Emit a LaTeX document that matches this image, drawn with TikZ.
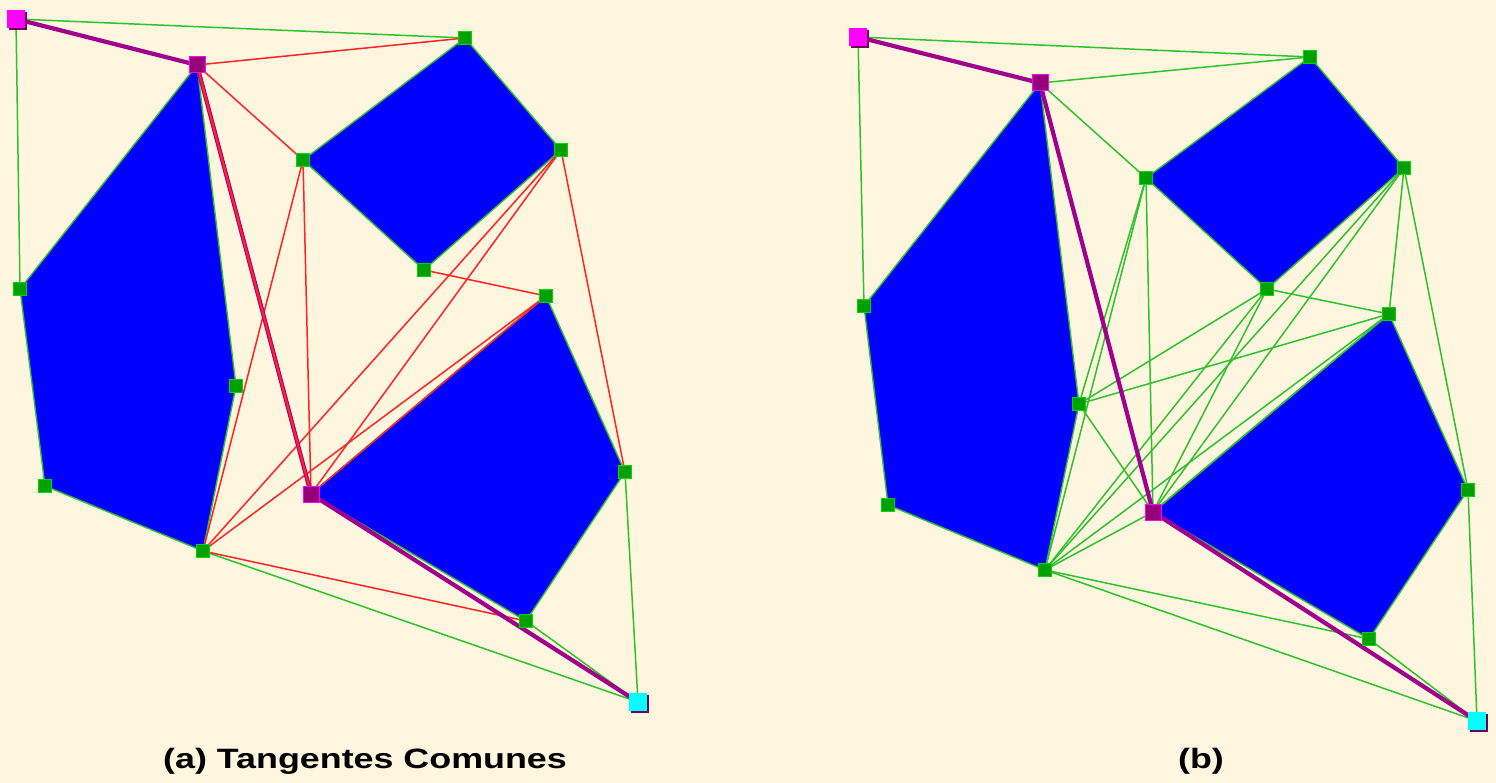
\documentclass[tikz,border=0pt]{standalone}
\usepackage{fontspec}
\setmainfont{Liberation Sans}
\usetikzlibrary{shadows}
\definecolor{bg}{RGB}{255,246,224}
\definecolor{poly}{RGB}{0,0,255}
\definecolor{gl}{RGB}{45,195,45}
\definecolor{rl}{RGB}{255,35,35}
\definecolor{pl}{RGB}{160,0,140}
\definecolor{vfill}{RGB}{0,160,0}
\definecolor{vedge}{RGB}{0,215,0}
\definecolor{pfill}{RGB}{150,0,120}
\definecolor{sfill}{RGB}{255,0,255}
\definecolor{gfill}{RGB}{0,255,255}
\definecolor{shad}{RGB}{110,0,90}
\tikzset{
  obst/.style={fill=poly, draw=gl, line width=1.4pt, line join=miter},
  gedge/.style={draw=gl, line width=1.5pt},
  redge/.style={draw=rl, line width=1.5pt},
  route/.style={draw=pl, line width=4.2pt, line cap=round, line join=round},
  vtx/.style={rectangle, draw=vedge, fill=vfill, line width=1pt, minimum size=12.5pt, inner sep=0pt},
  pvtx/.style={rectangle, draw=sfill, fill=pfill, line width=1pt, minimum size=16pt, inner sep=0pt},
  srcbox/.style={rectangle, fill=sfill, minimum size=18pt, inner sep=0pt, drop shadow={shadow xshift=2pt, shadow yshift=-2pt, fill=shad, opacity=1}},
  goalbox/.style={rectangle, fill=gfill, minimum size=18pt, inner sep=0pt, drop shadow={shadow xshift=2pt, shadow yshift=-2pt, fill=shad, opacity=1}},
  caption/.style={font=\fontsize{28}{30}\selectfont\bfseries, anchor=base, inner sep=0pt}
}
\begin{document}
\begin{tikzpicture}[x=1pt,y=-1pt]
\fill[bg] (0,0) rectangle (1496,783);
\useasboundingbox (0,0) rectangle (1496,783);
% ---------- panel (a) coordinates
\coordinate (aS) at (16,19);
\coordinate (aP) at (197,65);
\coordinate (aL2) at (20,289);
\coordinate (aL3) at (45,486);
\coordinate (aL4) at (203,551);
\coordinate (aL5) at (236,386);
\coordinate (aT1) at (465,38);
\coordinate (aT2) at (561,150);
\coordinate (aT3) at (424,270);
\coordinate (aT4) at (303,160);
\coordinate (aB1) at (546,296);
\coordinate (aB2) at (625,472);
\coordinate (aB3) at (526,621);
\coordinate (aB4) at (311,494);
\coordinate (aG) at (638,702);
% ---------- panel (b) coordinates
\coordinate (bS) at (858,37);
\coordinate (bP) at (1040,83);
\coordinate (bL2) at (864,306);
\coordinate (bL3) at (888,505);
\coordinate (bL4) at (1045,570);
\coordinate (bL5) at (1079,404);
\coordinate (bT1) at (1310,57);
\coordinate (bT2) at (1404,168);
\coordinate (bT3) at (1267,289);
\coordinate (bT4) at (1146,178);
\coordinate (bB1) at (1389,314);
\coordinate (bB2) at (1468,490);
\coordinate (bB3) at (1369,639);
\coordinate (bB4) at (1153,512);
\coordinate (bG) at (1477,721);
% ---------- obstacles
\foreach \p in {a,b}{
  \path[obst] (\p P) -- (\p L5) -- (\p L4) -- (\p L3) -- (\p L2) -- cycle;
  \path[obst] (\p T1) -- (\p T2) -- (\p T3) -- (\p T4) -- cycle;
  \path[obst] (\p B1) -- (\p B2) -- (\p B3) -- (\p B4) -- cycle;
}
% ---------- panel (a) edges
\draw[gedge] (aS) -- (aT1);
\draw[gedge] (aS) -- (aL2);
\draw[gedge] (aL4) -- (aG);
\draw[gedge] (aB3) -- (aG);
\draw[gedge] (aB2) -- (aG);
\draw[redge] (aP) -- (aT1);
\draw[redge] (aP) -- (aT4);
\draw[redge] (aT4) -- (aL4);
\draw[redge] (aT4) -- (aB4);
\draw[redge] (aT2) -- (aL4);
\draw[redge] (aT2) -- (aB4);
\draw[redge] (aT2) -- (aB2);
\draw[redge] (aT3) -- (aB1);
\draw[redge] (aB1) -- (aL4);
\draw[redge] (aB1) -- (aB4);
\draw[redge] (aL4) -- (aB3);
\draw[route] (aS) -- (aP) -- (aB4) -- (aG);
\draw[draw=rl, line width=2.2pt] (aP) -- (aB4);
% ---------- panel (b) edges
\draw[gedge] (bS) -- (bT1);
\draw[gedge] (bS) -- (bL2);
\draw[gedge] (bP) -- (bT1);
\draw[gedge] (bP) -- (bT4);
\draw[gedge] (bT4) -- (bL5);
\draw[gedge] (bT4) -- (bL4);
\draw[gedge] (bT4) -- (bB4);
\draw[gedge] (bT3) -- (bL5);
\draw[gedge] (bT3) -- (bL4);
\draw[gedge] (bT3) -- (bB4);
\draw[gedge] (bT3) -- (bB1);
\draw[gedge] (bT2) -- (bL4);
\draw[gedge] (bT2) -- (bB4);
\draw[gedge] (bT2) -- (bB1);
\draw[gedge] (bT2) -- (bB2);
\draw[gedge] (bB1) -- (bL5);
\draw[gedge] (bB1) -- (bL4);
\draw[gedge] (bB1) -- (bB4);
\draw[gedge] (bL5) -- (bB4);
\draw[gedge] (bL4) -- (bB4);
\draw[gedge] (bL4) -- (bB3);
\draw[gedge] (bL4) -- (bG);
\draw[gedge] (bB3) -- (bG);
\draw[gedge] (bB2) -- (bG);
\draw[route] (bS) -- (bP) -- (bB4) -- (bG);
% ---------- vertex markers
\foreach \p in {a,b}{
  \foreach \v in {L2,L3,L4,L5,T1,T2,T3,T4,B1,B2,B3}{
    \node[vtx] (m\p\v) at (\p\v) {};
  }
  \node[pvtx] (m\p P) at (\p P) {};
  \node[pvtx] (m\p B4) at (\p B4) {};
  \node[srcbox] (m\p S) at (\p S) {};
  \node[goalbox] (m\p G) at (\p G) {};
}
% ---------- captions
\node[caption] (capa) at (365,768) {\scalebox{1.28}[1]{(a) Tangentes Comunes}};
\node[caption] (capb) at (1201,768) {\scalebox{1.28}[1]{(b)}};
\end{tikzpicture}
\end{document}
